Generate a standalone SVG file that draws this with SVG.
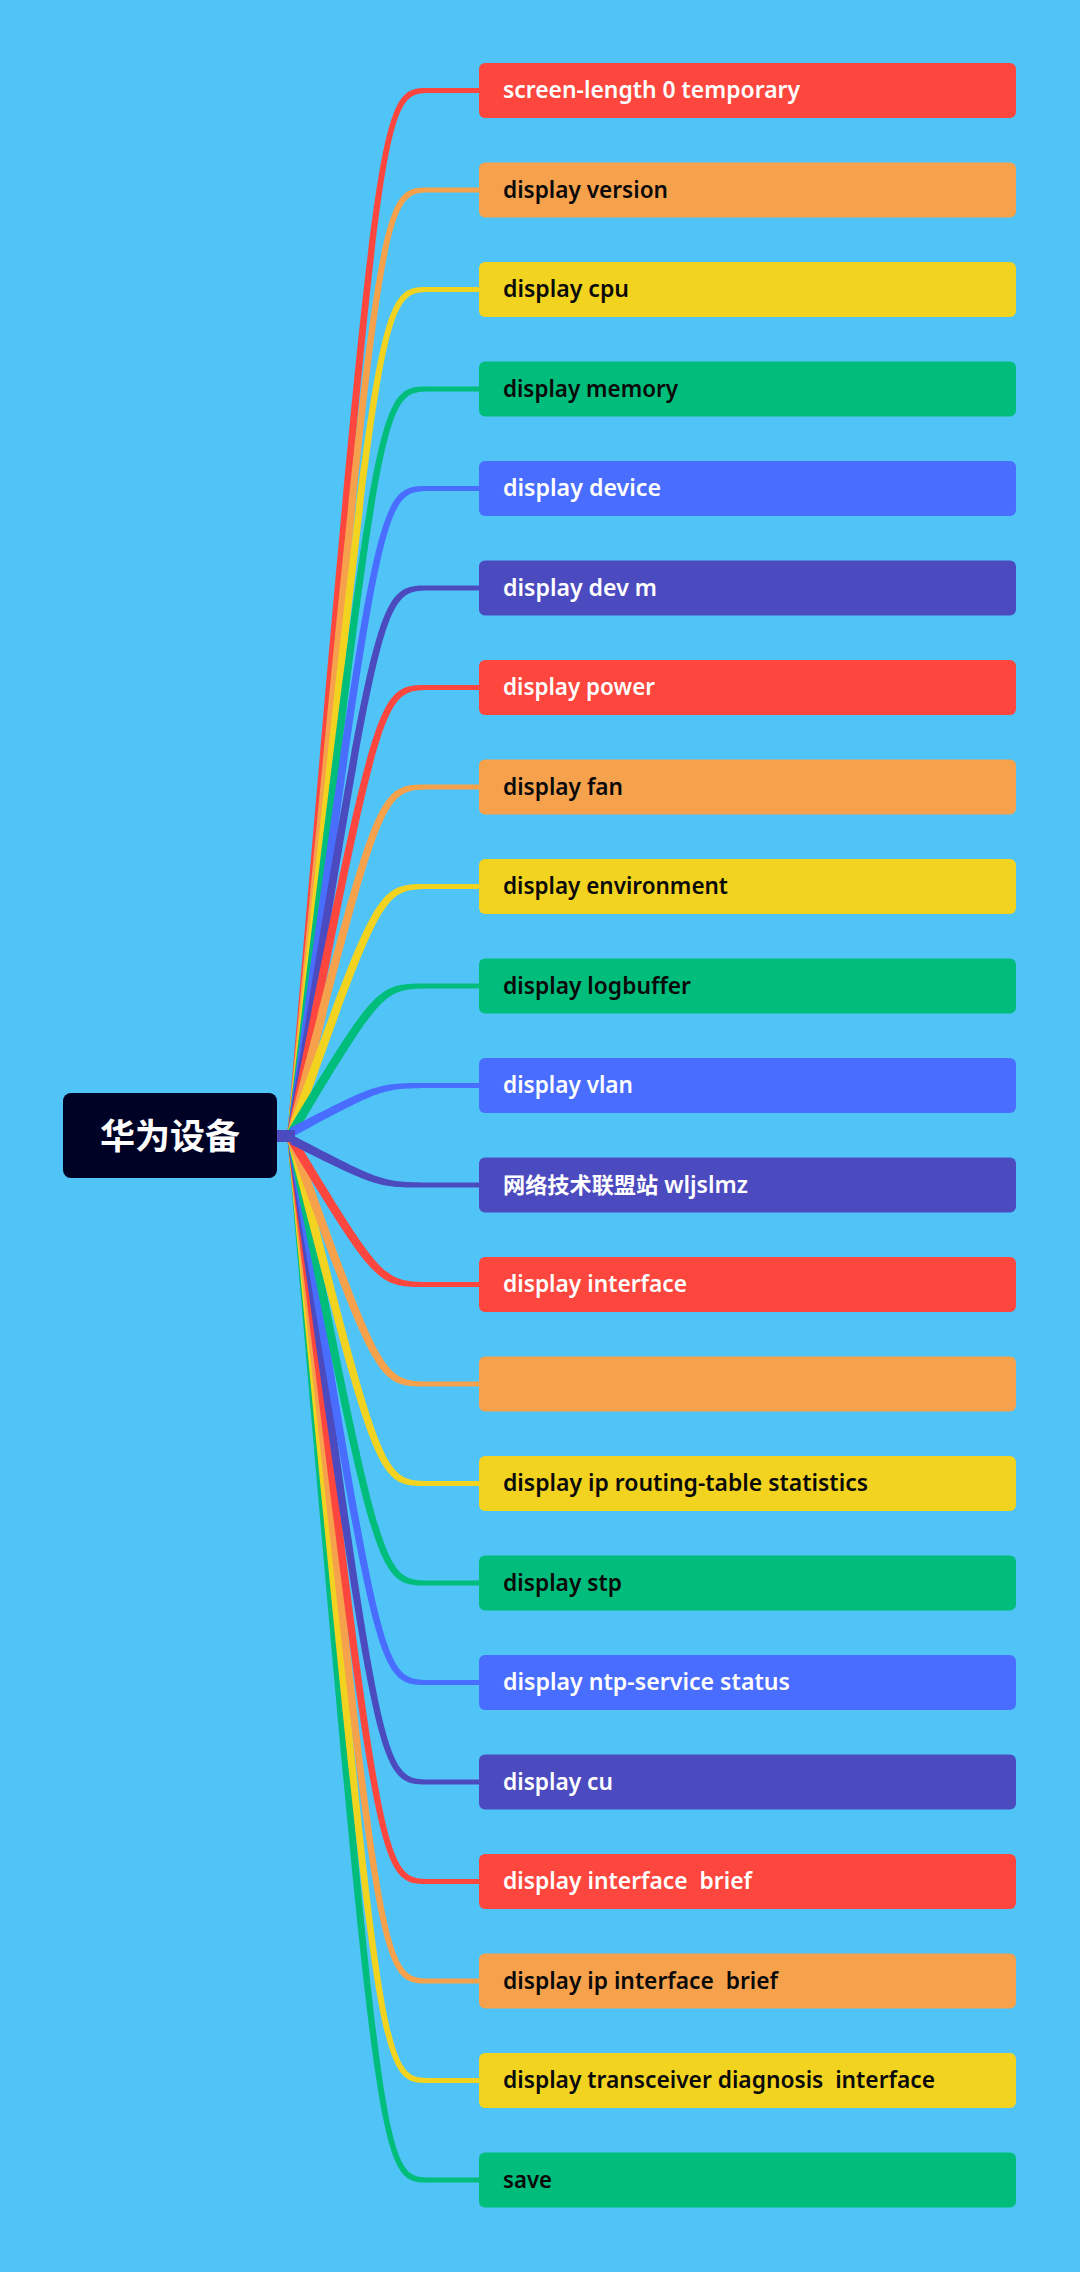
<svg xmlns="http://www.w3.org/2000/svg" width="1080" height="2272" viewBox="0 0 1080 2272">
<style>
.bg{fill:#50C4F7}
.r{fill:#FD463D}.o{fill:#F6A14C}.y{fill:#F2D31F}.g{fill:#00BD7B}.b{fill:#486DFF}.p{fill:#4C4ABF}
.t{font-family:"Noto Sans","Open Sans","Noto Sans CJK SC",sans-serif;font-size:23px;font-weight:600}
.w{fill:#FFFFFF}.k{fill:#0A0A0A}
.root{font-family:"Noto Sans CJK SC","Noto Sans",sans-serif;font-size:35px;font-weight:700;fill:#FFFFFF}
</style>
<rect class="bg" x="0" y="0" width="1080" height="2272"/>
<g id="connectors">
<path class="r" d="M287.5,1131.6 C377,87.5 377,87.5 430,88 L482,88 L482,93 L430,93 C383,93.5 383,93.5 296.5,1132.4 Z"/>
<path class="o" d="M287.5,1131.6 C377,187 377,187 430,187.5 L482,187.5 L482,192.5 L430,192.5 C383,193 383,193 296.5,1132.4 Z"/>
<path class="y" d="M287.5,1131.5 C377,286.5 377,286.5 430,287 L482,287 L482,292 L430,292 C383,292.5 383,292.5 296.5,1132.5 Z"/>
<path class="g" d="M287.5,1131.5 C377,386 377,386 430,386.5 L482,386.5 L482,391.5 L430,391.5 C383,392 383,392 296.5,1132.5 Z"/>
<path class="b" d="M287.5,1131.4 C377,485.5 377,485.5 430,486 L482,486 L482,491 L430,491 C383,491.5 383,491.5 296.5,1132.6 Z"/>
<path class="p" d="M287.6,1131.3 C377,585 377,585 430,585.5 L482,585.5 L482,590.5 L430,590.5 C383,591 383,591 296.4,1132.7 Z"/>
<path class="r" d="M287.6,1131.1 C377,684.5 377,684.5 430,685 L482,685 L482,690 L430,690 C383,690.5 383,690.5 296.4,1132.9 Z"/>
<path class="o" d="M287.6,1130.9 C377,784 377,784 430,784.5 L482,784.5 L482,789.5 L430,789.5 C383,790 383,790 296.4,1133.1 Z"/>
<path class="y" d="M287.8,1130.5 C377,883.5 377,883.5 430,884 L482,884 L482,889 L430,889 C383,889.5 383,889.5 296.2,1133.5 Z"/>
<path class="g" d="M288.2,1129.7 C377,983 377,983 430,983.5 L482,983.5 L482,988.5 L430,988.5 C383,989 383,989 295.9,1134.3 Z"/>
<path class="b" d="M289.9,1128 C378,1082.5 378,1082.5 430,1083 L482,1083 L482,1088 L430,1088 C382,1088.5 382,1088.5 294.1,1136 Z"/>
<path class="g" d="M287.5,1140.4 C377,2183 377,2183 430,2182.5 L482,2182.5 L482,2177.5 L430,2177.5 C383,2177 383,2177 296.5,1139.6 Z"/>
<path class="y" d="M287.5,1140.4 C377,2083.5 377,2083.5 430,2083 L482,2083 L482,2078 L430,2078 C383,2077.5 383,2077.5 296.5,1139.6 Z"/>
<path class="o" d="M287.5,1140.5 C377,1984 377,1984 430,1983.5 L482,1983.5 L482,1978.5 L430,1978.5 C383,1978 383,1978 296.5,1139.5 Z"/>
<path class="r" d="M287.5,1140.5 C377,1884.5 377,1884.5 430,1884 L482,1884 L482,1879 L430,1879 C383,1878.5 383,1878.5 296.5,1139.5 Z"/>
<path class="p" d="M287.5,1140.6 C377,1785 377,1785 430,1784.5 L482,1784.5 L482,1779.5 L430,1779.5 C383,1779 383,1779 296.5,1139.4 Z"/>
<path class="b" d="M287.6,1140.7 C377,1685.5 377,1685.5 430,1685 L482,1685 L482,1680 L430,1680 C383,1679.5 383,1679.5 296.4,1139.3 Z"/>
<path class="g" d="M287.6,1140.9 C377,1586 377,1586 430,1585.5 L482,1585.5 L482,1580.5 L430,1580.5 C383,1580 383,1580 296.4,1139.1 Z"/>
<path class="y" d="M287.6,1141.1 C377,1486.5 377,1486.5 430,1486 L482,1486 L482,1481 L430,1481 C383,1480.5 383,1480.5 296.4,1138.9 Z"/>
<path class="o" d="M287.8,1141.5 C377,1387 377,1387 430,1386.5 L482,1386.5 L482,1381.5 L430,1381.5 C383,1381 383,1381 296.2,1138.5 Z"/>
<path class="r" d="M288.2,1142.3 C377,1287.5 377,1287.5 430,1287 L482,1287 L482,1282 L430,1282 C383,1281.5 383,1281.5 295.8,1137.7 Z"/>
<rect class="p" x="270" y="1130" width="25" height="12"/>
<path class="p" d="M290,1144 C378,1188 378,1188 430,1187.5 L482,1187.5 L482,1182.5 L430,1182.5 C382,1182 382,1182 294.1,1136 Z"/>
</g>
<g id="root">
<rect x="63" y="1093" width="214" height="85" rx="8" ry="8" fill="#000225"/>
<text class="root" x="170" y="1149" text-anchor="middle">华为设备</text>
</g>
<g id="n0"><rect class="r" x="479" y="63" width="537" height="55" rx="6" ry="6"/><text class="t w" x="503" y="98" textLength="297" lengthAdjust="spacingAndGlyphs">screen-length 0 temporary</text></g>
<g id="n1"><rect class="o" x="479" y="162.5" width="537" height="55" rx="6" ry="6"/><text class="t k" x="503" y="197.5" textLength="165" lengthAdjust="spacingAndGlyphs">display version</text></g>
<g id="n2"><rect class="y" x="479" y="262" width="537" height="55" rx="6" ry="6"/><text class="t k" x="503" y="297" textLength="126" lengthAdjust="spacingAndGlyphs">display cpu</text></g>
<g id="n3"><rect class="g" x="479" y="361.5" width="537" height="55" rx="6" ry="6"/><text class="t k" x="503" y="396.5" textLength="175" lengthAdjust="spacingAndGlyphs">display memory</text></g>
<g id="n4"><rect class="b" x="479" y="461" width="537" height="55" rx="6" ry="6"/><text class="t w" x="503" y="496" textLength="158" lengthAdjust="spacingAndGlyphs">display device</text></g>
<g id="n5"><rect class="p" x="479" y="560.5" width="537" height="55" rx="6" ry="6"/><text class="t w" x="503" y="595.5" textLength="154" lengthAdjust="spacingAndGlyphs">display dev m</text></g>
<g id="n6"><rect class="r" x="479" y="660" width="537" height="55" rx="6" ry="6"/><text class="t w" x="503" y="695" textLength="152" lengthAdjust="spacingAndGlyphs">display power</text></g>
<g id="n7"><rect class="o" x="479" y="759.5" width="537" height="55" rx="6" ry="6"/><text class="t k" x="503" y="794.5" textLength="120" lengthAdjust="spacingAndGlyphs">display fan</text></g>
<g id="n8"><rect class="y" x="479" y="859" width="537" height="55" rx="6" ry="6"/><text class="t k" x="503" y="894" textLength="225" lengthAdjust="spacingAndGlyphs">display environment</text></g>
<g id="n9"><rect class="g" x="479" y="958.5" width="537" height="55" rx="6" ry="6"/><text class="t k" x="503" y="993.5" textLength="188" lengthAdjust="spacingAndGlyphs">display logbuffer</text></g>
<g id="n10"><rect class="b" x="479" y="1058" width="537" height="55" rx="6" ry="6"/><text class="t w" x="503" y="1093" textLength="130" lengthAdjust="spacingAndGlyphs">display vlan</text></g>
<g id="n11"><rect class="p" x="479" y="1157.5" width="537" height="55" rx="6" ry="6"/><text class="t w" x="503" y="1192.5" textLength="245" lengthAdjust="spacingAndGlyphs"><tspan font-family="Noto Sans CJK SC, sans-serif" font-weight="700" font-size="22">网络技术联盟站</tspan> wljslmz</text></g>
<g id="n12"><rect class="r" x="479" y="1257" width="537" height="55" rx="6" ry="6"/><text class="t w" x="503" y="1292" textLength="184" lengthAdjust="spacingAndGlyphs">display interface</text></g>
<g id="n13"><rect class="o" x="479" y="1356.5" width="537" height="55" rx="6" ry="6"/></g>
<g id="n14"><rect class="y" x="479" y="1456" width="537" height="55" rx="6" ry="6"/><text class="t k" x="503" y="1491" textLength="365" lengthAdjust="spacingAndGlyphs">display ip routing-table statistics</text></g>
<g id="n15"><rect class="g" x="479" y="1555.5" width="537" height="55" rx="6" ry="6"/><text class="t k" x="503" y="1590.5" textLength="119" lengthAdjust="spacingAndGlyphs">display stp</text></g>
<g id="n16"><rect class="b" x="479" y="1655" width="537" height="55" rx="6" ry="6"/><text class="t w" x="503" y="1690" textLength="287" lengthAdjust="spacingAndGlyphs">display ntp-service status</text></g>
<g id="n17"><rect class="p" x="479" y="1754.5" width="537" height="55" rx="6" ry="6"/><text class="t w" x="503" y="1789.5" textLength="110" lengthAdjust="spacingAndGlyphs">display cu</text></g>
<g id="n18"><rect class="r" x="479" y="1854" width="537" height="55" rx="6" ry="6"/><text class="t w" x="503" y="1889" textLength="249" lengthAdjust="spacingAndGlyphs" xml:space="preserve">display interface  brief</text></g>
<g id="n19"><rect class="o" x="479" y="1953.5" width="537" height="55" rx="6" ry="6"/><text class="t k" x="503" y="1988.5" textLength="275" lengthAdjust="spacingAndGlyphs" xml:space="preserve">display ip interface  brief</text></g>
<g id="n20"><rect class="y" x="479" y="2053" width="537" height="55" rx="6" ry="6"/><text class="t k" x="503" y="2088" textLength="432" lengthAdjust="spacingAndGlyphs" xml:space="preserve">display transceiver diagnosis  interface</text></g>
<g id="n21"><rect class="g" x="479" y="2152.5" width="537" height="55" rx="6" ry="6"/><text class="t k" x="503" y="2187.5" textLength="49" lengthAdjust="spacingAndGlyphs">save</text></g>
</svg>
